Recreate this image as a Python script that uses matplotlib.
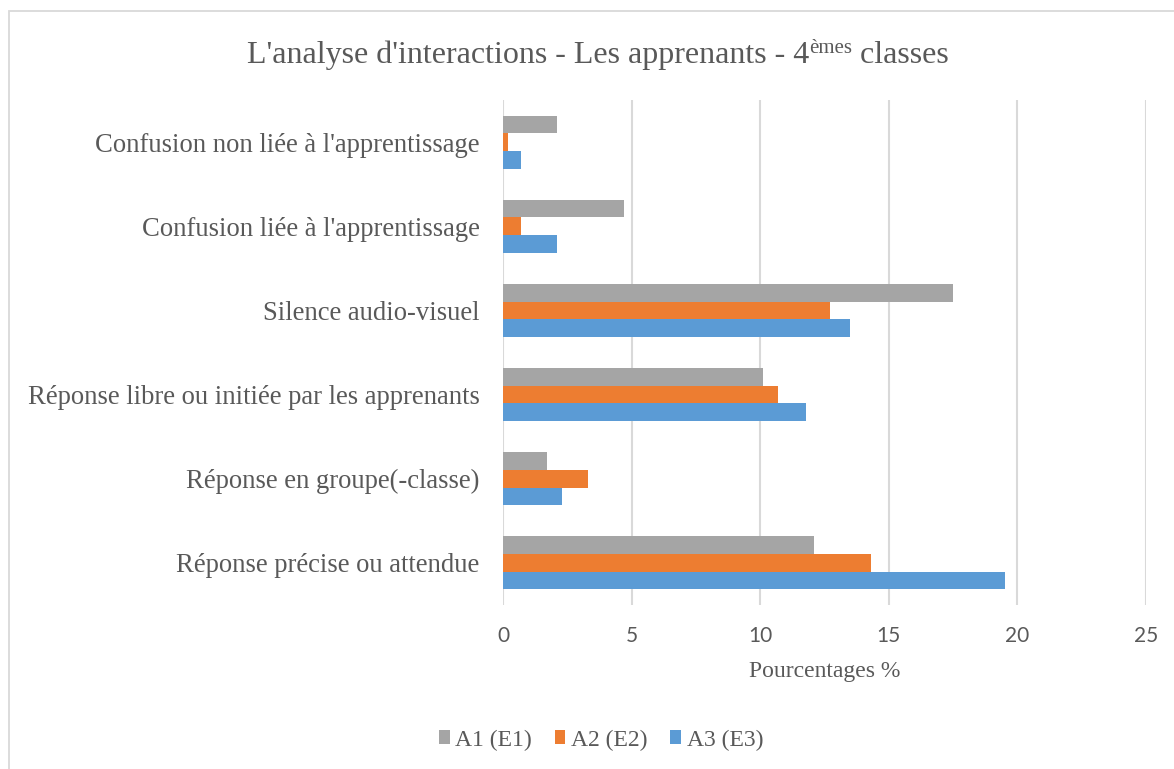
import matplotlib
matplotlib.use("Agg")
import matplotlib.pyplot as plt
import numpy as np
from matplotlib.patches import Rectangle

categories = [
    "Réponse précise ou attendue",
    "Réponse en groupe(-classe)",
    "Réponse libre ou initiée par les apprenants",
    "Silence audio-visuel",
    "Confusion liée à l'apprentissage",
    "Confusion non liée à l'apprentissage",
]
a1_e1 = [12.1, 1.7, 10.1, 17.5, 4.7, 2.1]
a2_e2 = [14.3, 3.3, 10.7, 12.7, 0.7, 0.2]
a3_e3 = [19.5, 2.3, 11.8, 13.5, 2.1, 0.7]
series_names = ["A1 (E1)", "A2 (E2)", "A3 (E3)"]
x_ticks = [0, 5, 10, 15, 20, 25]

colors = ["#A5A5A5", "#ED7D31", "#5B9BD5"]
text_color = "#595959"
serif = "Liberation Serif"

W, H = 1174, 769
fig = plt.figure(figsize=(W / 100, H / 100), dpi=100)
fig.patch.set_facecolor("white")

# chart border (only top and left visible, rest outside the image)
fig.patches.append(Rectangle((8.5 / W, -0.1), 1.2, 1.1 - 10.5 / H, transform=fig.transFigure,
                             fill=False, edgecolor="#D9D9D9", linewidth=1.3))

ax = fig.add_axes([503 / W, 1 - 605 / H, (1146 - 503) / W, (605 - 100) / H])
y = np.arange(len(categories))
h = 0.21
ax.barh(y + h, a1_e1, height=h, color=colors[0], label=series_names[0], zorder=3)
ax.barh(y, a2_e2, height=h, color=colors[1], label=series_names[1], zorder=3)
ax.barh(y - h, a3_e3, height=h, color=colors[2], label=series_names[2], zorder=3)

ax.set_xlim(0, 25)
ax.set_ylim(-0.5, len(categories) - 0.5)
ax.set_xticks(x_ticks)
ax.set_xticklabels([str(t) for t in x_ticks], fontfamily="Lato", fontsize=15, color=text_color)
ax.set_yticks(y)
ax.set_yticklabels(categories, fontfamily=serif, fontsize=19.2, color=text_color)
ax.tick_params(axis="both", length=0)
ax.tick_params(axis="x", pad=15)
ax.tick_params(axis="y", pad=17)
ax.xaxis.grid(True, color="#D9D9D9", linewidth=1.5, zorder=0)
for s in ax.spines.values():
    s.set_visible(False)
ax.set_xlabel("Pourcentages %", fontfamily=serif, fontsize=17, color=text_color, labelpad=11)

# legend
handles, labels = ax.get_legend_handles_labels()
fig.legend(handles, labels, loc="center", bbox_to_anchor=(601 / W, 1 - 740 / H), ncol=3,
           frameon=False, handlelength=0.45, handleheight=0.5, handletextpad=0.25,
           columnspacing=0.95, prop={"family": serif, "size": 17}, labelcolor=text_color)

# title with superscript
fig.canvas.draw()
renderer = fig.canvas.get_renderer()
parts = [("L'analyse d'interactions - Les apprenants - 4", 23, 0),
         ("èmes", 15, 10),
         (" classes", 23, 0)]
base_y = 1 - 63 / H
texts = []
widths = []
for s, fs, dy in parts:
    t = fig.text(0, base_y + dy / H, s, fontfamily=serif, fontsize=fs, color=text_color,
                 va="baseline", ha="left")
    bb = t.get_window_extent(renderer)
    texts.append(t)
    widths.append(bb.width)
total = sum(widths)
x0 = 598 - total / 2
for t, w in zip(texts, widths):
    t.set_x(x0 / W)
    x0 += w

fig.savefig("out.png", dpi=100)
